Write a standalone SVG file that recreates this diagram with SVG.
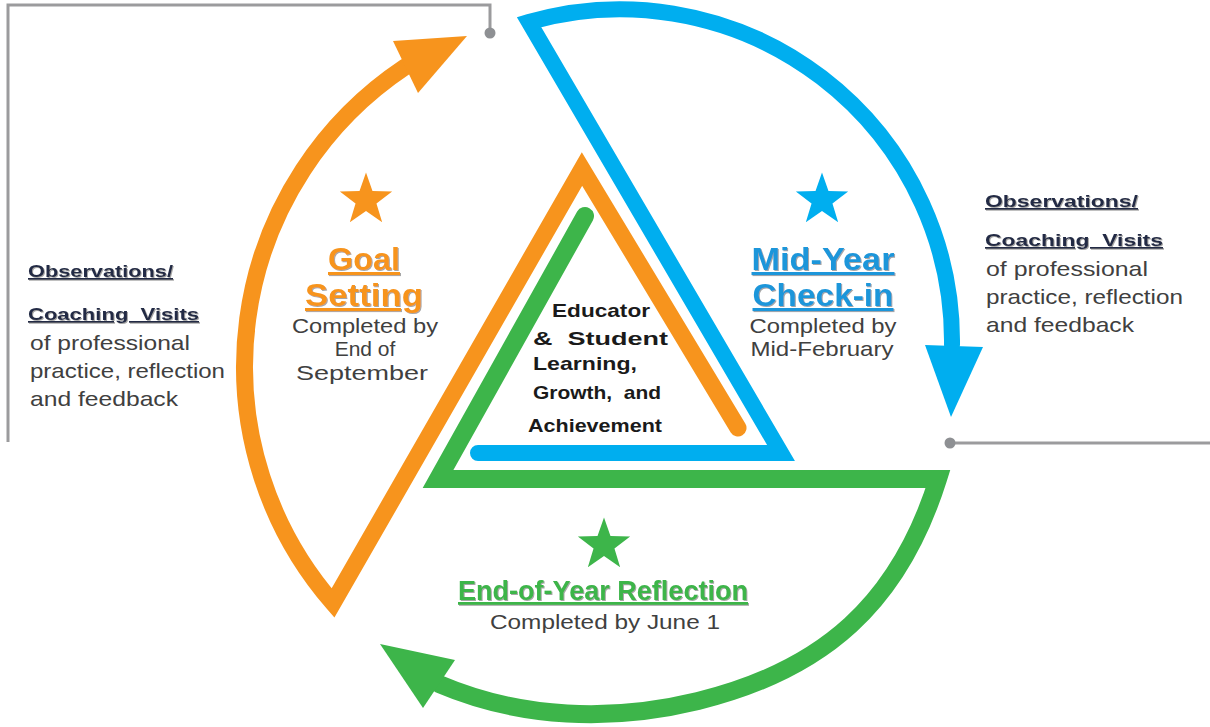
<svg xmlns="http://www.w3.org/2000/svg" width="1210" height="727" viewBox="0 0 1210 727">
<style>
  .band{fill:none;stroke-linejoin:miter;stroke-linecap:round;stroke-miterlimit:6}
  .or{stroke:#F7941D}.orf{fill:#F7941D}
  .bl{stroke:#00AEEF}.blf{fill:#00AEEF}
  .gr{stroke:#3DB54A}.grf{fill:#3DB54A}
  .gline{fill:none;stroke:#9B9B9D;stroke-width:3}
  .dot{fill:#8E9093}
  .hd{font-family:"Liberation Sans",Arial,sans-serif;font-weight:bold;text-decoration:underline}
  .obs{font-size:17px;fill:#232B45}
  .body{font-family:"Liberation Sans",Arial,sans-serif;font-size:21px;fill:#404040}
  .ph{font-size:31px}
  .ctr{font-family:"Liberation Sans",Arial,sans-serif;font-weight:bold;font-size:19px;fill:#1A1A1A}
</style>
<defs>
  <path id="star" d="M0,-27.5 L6.47,-8.9 L26.15,-8.5 L10.46,3.4 L16.16,22.25 L0,11 L-16.16,22.25 L-10.46,3.4 L-26.15,-8.5 L-6.47,-8.9 Z"/>
  <filter id="sh" x="-5%" y="-5%" width="110%" height="120%">
    <feDropShadow dx="1" dy="1" stdDeviation="0.6" flood-color="#808080" flood-opacity="0.7"/>
  </filter>
</defs>

<g id="connectors">
  <polyline class="gline" points="490,33 490,5 8,5 8,442"/>
  <circle class="dot" cx="490" cy="33" r="5.5"/>
  <line class="gline" x1="950" y1="443" x2="1210" y2="443"/>
  <circle class="dot" cx="950" cy="443" r="5.5"/>
</g>

<g id="goal-setting">
  <path class="band or" stroke-width="17" d="M738,428 L582,169 L333,603 A360,360 0 0 1 405,67"/>
  <polygon class="orf" points="393,41 467,36 418,93"/>
  <use href="#star" x="366" y="200" class="orf"/>
  <text class="hd ph" fill="#F7941D" filter="url(#sh)" x="364" y="270" text-anchor="middle" textLength="72" lengthAdjust="spacingAndGlyphs">Goal</text>
  <text class="hd ph" fill="#F7941D" filter="url(#sh)" x="364" y="306" text-anchor="middle" textLength="118" lengthAdjust="spacingAndGlyphs">Setting</text>
  <text class="body" x="365" y="333" text-anchor="middle" textLength="146" lengthAdjust="spacingAndGlyphs">Completed by</text>
  <text class="body" x="365" y="356" text-anchor="middle">End of</text>
  <text class="body" x="362" y="380" text-anchor="middle" textLength="132" lengthAdjust="spacingAndGlyphs">September</text>
</g>

<g id="mid-year-check-in">
  <path class="band bl" stroke-width="16" d="M478,453 L781,453 L529,22 A332,332 0 0 1 952,345"/>
  <polygon class="blf" points="925,345 983,347 951,417"/>
  <use href="#star" x="822" y="200" class="blf"/>
  <text class="hd ph" fill="#1E96DA" filter="url(#sh)" x="823" y="270" text-anchor="middle" textLength="143" lengthAdjust="spacingAndGlyphs">Mid-Year</text>
  <text class="hd ph" fill="#1E96DA" filter="url(#sh)" x="823" y="306" text-anchor="middle" textLength="141" lengthAdjust="spacingAndGlyphs">Check-in</text>
  <text class="body" x="823" y="333" text-anchor="middle" textLength="147" lengthAdjust="spacingAndGlyphs">Completed by</text>
  <text class="body" x="822" y="356" text-anchor="middle" textLength="143" lengthAdjust="spacingAndGlyphs">Mid-February</text>
</g>

<g id="end-of-year-reflection">
  <path class="band gr" stroke-width="18" d="M585,216 L438,479 L938,479 C899,603 824,670 698,701 C612,722 521,719 439,684"/>
  <polygon class="grf" points="455,660 380,644 423,708"/>
  <use href="#star" x="604" y="545" class="grf"/>
  <text class="hd" font-size="28" fill="#3DB54A" filter="url(#sh)" x="603" y="600" text-anchor="middle" textLength="290" lengthAdjust="spacingAndGlyphs">End-of-Year Reflection</text>
  <text class="body" x="605" y="629" text-anchor="middle" textLength="230" lengthAdjust="spacingAndGlyphs">Completed by June 1</text>
</g>

<g id="center-focus">
  <text class="ctr" x="552" y="317" textLength="98" lengthAdjust="spacingAndGlyphs">Educator</text>
  <text class="ctr" x="533" y="345" xml:space="preserve" textLength="135" lengthAdjust="spacingAndGlyphs">&amp;  Student</text>
  <text class="ctr" x="533" y="370" textLength="104" lengthAdjust="spacingAndGlyphs">Learning,</text>
  <text class="ctr" x="533" y="399" xml:space="preserve" textLength="128" lengthAdjust="spacingAndGlyphs">Growth,  and</text>
  <text class="ctr" x="528" y="432" textLength="134" lengthAdjust="spacingAndGlyphs">Achievement</text>
</g>

<g id="observations-left">
  <text class="hd obs" filter="url(#sh)" x="28" y="277" textLength="145" lengthAdjust="spacingAndGlyphs">Observations/</text>
  <text class="hd obs" filter="url(#sh)" x="28" y="320" xml:space="preserve" textLength="171" lengthAdjust="spacingAndGlyphs">Coaching  Visits</text>
  <text class="body" x="30" y="350" textLength="160" lengthAdjust="spacingAndGlyphs">of professional</text>
  <text class="body" x="30" y="378" textLength="195" lengthAdjust="spacingAndGlyphs">practice, reflection</text>
  <text class="body" x="30" y="406" textLength="148" lengthAdjust="spacingAndGlyphs">and feedback</text>
</g>

<g id="observations-right">
  <text class="hd obs" filter="url(#sh)" x="985" y="207" textLength="153" lengthAdjust="spacingAndGlyphs">Observations/</text>
  <text class="hd obs" filter="url(#sh)" x="985" y="246" xml:space="preserve" textLength="178" lengthAdjust="spacingAndGlyphs">Coaching  Visits</text>
  <text class="body" x="986" y="276" textLength="162" lengthAdjust="spacingAndGlyphs">of professional</text>
  <text class="body" x="986" y="304" textLength="197" lengthAdjust="spacingAndGlyphs">practice, reflection</text>
  <text class="body" x="986" y="332" textLength="148" lengthAdjust="spacingAndGlyphs">and feedback</text>
</g>
</svg>
